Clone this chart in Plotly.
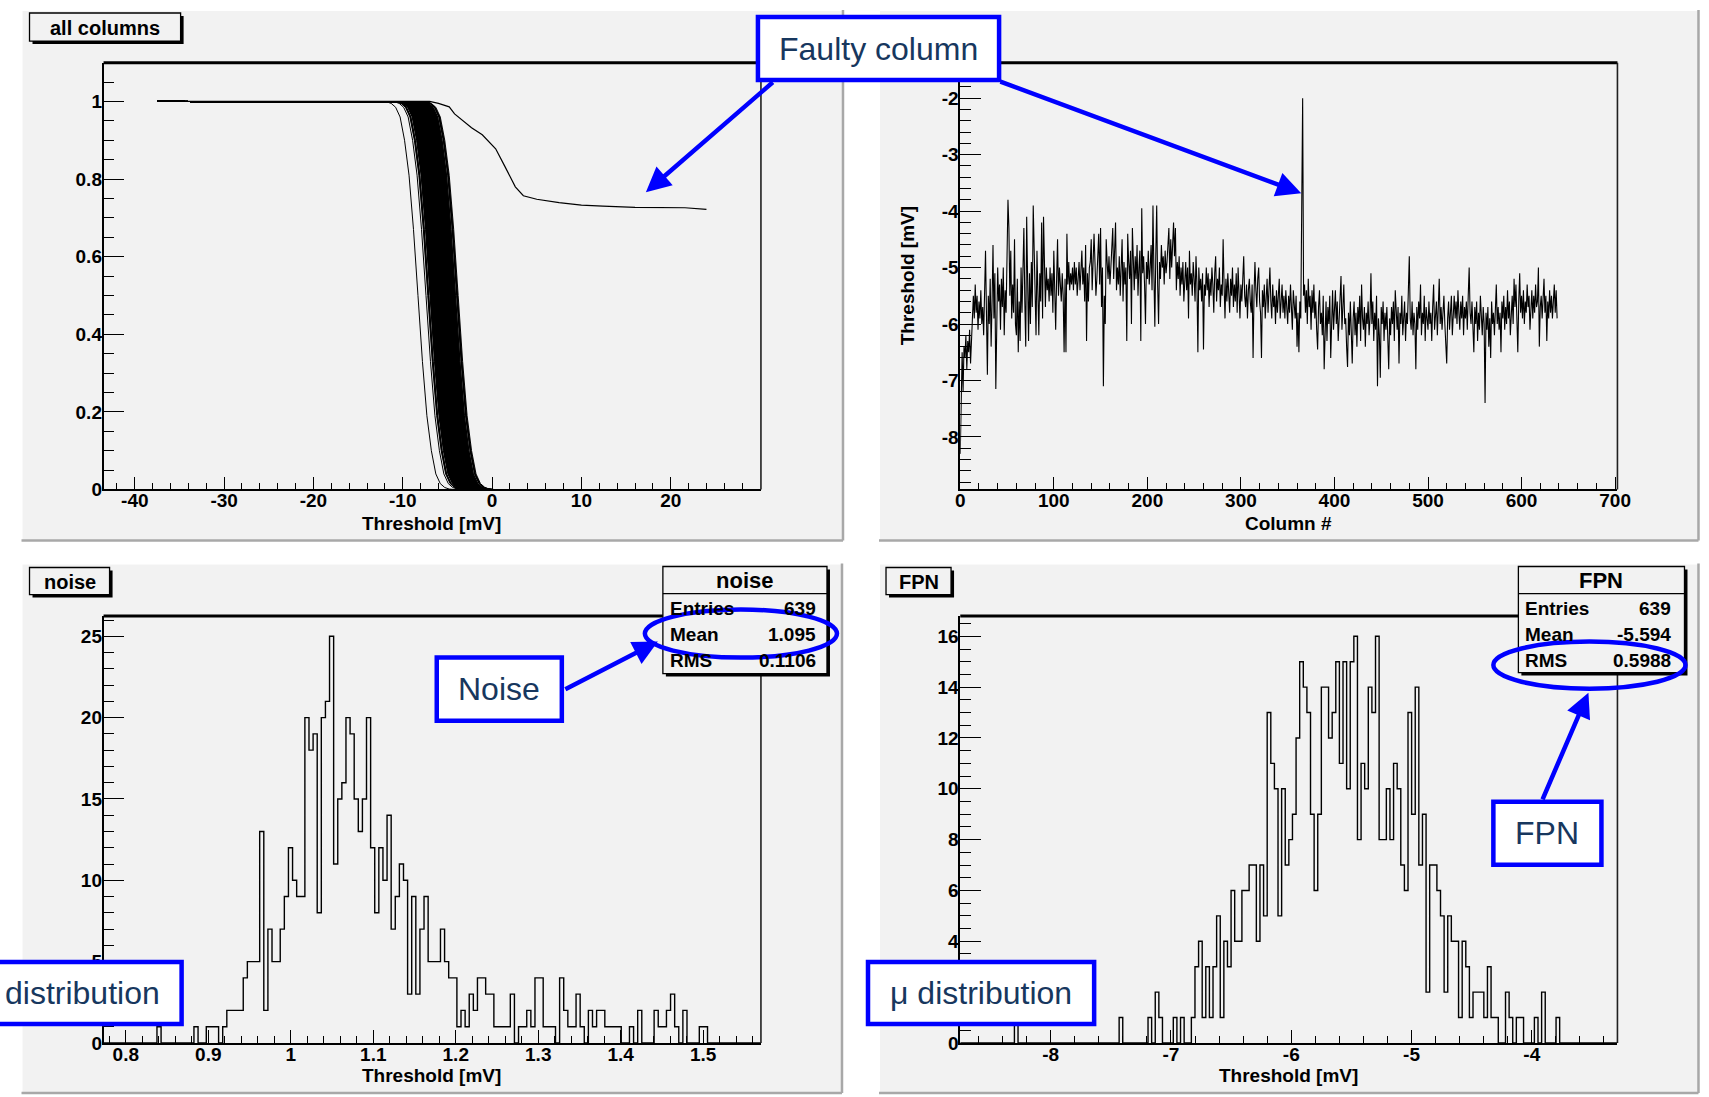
import plotly.graph_objects as go

W, H = 1709, 1097          # design coordinates (reference pixels)
FIG_W, FIG_H = 1728, 1109  # rendered figure size
X_SHIFT = -5.5             # horizontal calibration of the design grid
ROOT_FONT = "Liberation Sans"
NOTE_FONT = "Liberation Sans"
PANEL_BG = "#F2F2F2"
NOTE_BLUE = "#0000FF"
NOTE_TEXT = "#17375E"

# ------------------------------------------------------------------ data
# threshold (mV) per column, read from the "Threshold vs Column #" graph
COLUMN_THRESHOLD_MV = [
    -8.3, -6.9, -6.5, -7.2, -6.4, -6.6, -6.2, -6.8, -6.3, -6.5, -6.1, -6.7, -6.2, -6.0, -5.5, -5.9, -5.3, -5.8, -5.5, -6.1,
    -5.6, -5.9, -5.4, -6.0, -5.7, -6.2, -5.4, -4.7, -5.8, -6.9, -5.5, -6.0, -5.2, -6.4, -5.6, -4.6, -5.9, -5.1, -7.15, -5.8,
    -5.0, -5.6, -5.3, -6.1, -5.2, -5.7, -5.0, -6.2, -5.4, -5.8, -4.9, -3.8, -4.3, -5.5, -4.7, -5.9, -5.3, -5.8, -4.5, -6.0,
    -6.2, -5.2, -6.5, -5.6, -6.3, -5.0, -5.8, -4.9, -4.3, -5.6, -6.4, -4.1, -5.5, -6.3, -5.1, -6.0, -4.9, -5.7, -3.9, -4.6,
    -5.4, -6.2, -4.7, -5.5, -6.2, -5.1, -5.6, -4.2, -5.9, -4.1, -5.3, -5.7, -5.0, -5.4, -5.2, -5.6, -5.0, -5.5, -5.1, -5.8,
    -4.7, -5.4, -6.1, -5.2, -4.5, -5.5, -5.0, -5.3, -5.6, -5.1, -5.5, -6.5, -5.2, -6.5, -4.4, -5.3, -4.9, -5.4, -5.1, -5.3,
    -5.0, -5.4, -4.9, -5.3, -5.0, -5.5, -5.2, -4.9, -5.4, -5.1, -4.7, -5.3, -5.0, -5.6, -4.6, -6.3, -5.1, -5.6, -5.0, -4.9,
    -4.5, -5.4, -5.0, -4.4, -4.9, -5.5, -5.2, -4.8, -4.4, -5.3, -4.3, -5.7, -5.0, -7.1, -5.5, -6.0, -4.5, -4.9, -5.2, -4.8,
    -5.3, -5.0, -4.7, -4.3, -5.2, -4.8, -4.2, -5.4, -5.0, -5.3, -4.8, -5.5, -4.7, -4.5, -5.6, -4.9, -5.3, -5.0, -6.3, -4.4,
    -4.9, -5.2, -4.7, -6.0, -4.3, -5.0, -5.4, -4.8, -5.2, -4.6, -5.5, -5.0, -4.7, -6.3, -3.95, -5.1, -4.8, -5.3, -6.0, -4.9,
    -5.2, -4.7, -5.3, -5.0, -4.6, -5.4, -3.9, -5.1, -6.05, -4.8, -3.9, -5.3, -6.0, -4.9, -5.2, -4.6, -5.0, -4.8, -5.3, -4.7,
    -5.1, -4.9, -4.6, -4.3, -5.2, -4.5, -5.0, -4.7, -4.2, -4.8, -4.3, -5.4, -4.9, -5.2, -4.8, -5.5, -5.0, -5.3, -4.9, -5.6,
    -5.1, -4.9, -5.4, -5.0, -5.9, -4.7, -5.3, -5.1, -5.5, -4.9, -5.2, -5.6, -4.8, -5.3, -6.5, -5.0, -5.4, -5.2, -5.6, -5.1,
    -6.45, -5.3, -5.5, -5.0, -5.4, -5.1, -5.7, -5.2, -5.5, -5.0, -5.3, -5.8, -5.1, -4.8, -5.6, -5.2, -5.4, -5.0, -5.7, -5.3,
    -5.5, -4.5, -5.3, -5.9, -5.2, -5.6, -5.1, -5.4, -5.8, -5.2, -5.5, -5.0, -5.7, -5.3, -5.6, -5.1, -5.8, -5.0, -5.4, -5.9,
    -5.3, -5.6, -5.2, -4.8, -5.5, -5.7, -5.3, -5.9, -5.4, -5.2, -5.6, -5.8, -5.3, -6.6, -5.5, -4.9, -5.4, -5.7, -5.2, -5.0,
    -5.6, -5.8, -6.6, -5.4, -5.7, -5.3, -5.9, -5.5, -5.2, -5.8, -5.4, -5.0, -5.6, -5.9, -5.3, -5.7, -5.5, -6.0, -5.4, -5.8,
    -5.5, -5.2, -5.9, -5.6, -5.3, -5.8, -5.5, -5.9, -5.4, -5.7, -6.0, -5.5, -5.8, -5.3, -5.6, -6.1, -5.4, -5.7, -5.9, -5.5,
    -6.4, -5.8, -6.5, -5.6, -5.9, -3.95, -2.0, -5.5, -5.3, -5.8, -5.4, -6.0, -5.2, -5.7, -5.5, -6.1, -5.4, -5.8, -5.3, -5.9,
    -5.6, -6.1, -6.45, -5.7, -5.4, -6.0, -5.8, -6.2, -5.5, -6.8, -5.9, -5.6, -6.3, -5.7, -6.0, -5.5, -6.6, -5.8, -5.4, -6.1,
    -5.7, -5.4, -6.0, -5.6, -6.3, -5.8, -5.5, -5.15, -6.1, -5.7, -5.3, -6.0, -5.9, -6.4, -6.76, -5.8, -6.2, -5.6, -6.0, -6.7,
    -5.9, -5.6, -6.2, -5.8, -6.4, -5.7, -6.0, -5.5, -6.3, -5.3, -5.9, -6.1, -5.7, -6.4, -5.8, -6.0, -5.6, -6.2, -5.9, -5.1,
    -6.0, -5.6, -6.3, -5.8, -6.1, -5.5, -7.1, -5.9, -6.2, -6.95, -5.7, -6.0, -5.6, -6.3, -5.8, -6.1, -5.7, -6.4, -6.8, -5.9,
    -6.2, -5.7, -6.0, -5.6, -6.3, -5.4, -5.9, -6.1, -5.7, -6.7, -5.8, -6.0, -5.5, -6.2, -5.9, -5.6, -6.3, -5.8, -6.0, -5.5,
    -4.8, -5.9, -6.1, -5.6, -6.2, -5.8, -6.0, -6.8, -5.7, -6.1, -5.6, -5.9, -5.3, -6.2, -5.8, -6.0, -5.5, -6.3, -5.7, -5.9,
    -6.1, -5.6, -6.0, -5.8, -6.3, -5.7, -5.3, -6.1, -5.9, -5.6, -6.2, -5.8, -5.2, -6.0, -5.7, -6.1, -5.8, -5.5, -6.0, -6.3,
    -6.7, -5.9, -5.6, -6.1, -5.8, -5.5, -6.2, -5.7, -5.5, -5.9, -5.6, -6.0, -5.4, -5.8, -6.1, -5.6, -5.9, -5.5, -6.2, -5.7,
    -5.9, -5.6, -6.1, -5.5, -5.0, -5.8, -6.0, -5.6, -6.2, -6.5, -5.7, -6.0, -5.6, -6.3, -5.8, -6.1, -5.5, -5.9, -6.2, -5.7,
    -6.0, -7.4, -5.8, -6.1, -5.7, -6.4, -5.9, -6.6, -5.6, -6.0, -5.8, -6.2, -5.5, -5.3, -6.0, -5.7, -6.1, -5.8, -6.5, -5.6,
    -5.9, -5.5, -6.1, -5.7, -6.0, -5.4, -5.9, -5.6, -6.2, -5.8, -5.5, -6.0, -5.2, -5.7, -5.3, -5.9, -6.5, -5.6, -5.1, -5.8,
    -5.5, -5.9, -5.4, -6.0, -5.6, -5.8, -5.3, -5.7, -5.5, -6.1, -5.6, -5.4, -5.9, -5.5, -5.8, -5.3, -5.7, -5.6, -5.0, -6.4,
    -5.7, -5.5, -5.9, -5.4, -5.2, -5.8, -5.5, -6.3, -5.6, -5.9, -5.4, -5.8, -5.5, -5.9, -5.6, -5.3, -5.8, -5.4, -5.9,
]
FAULTY_COLUMN = 366

# S-curve: occupancy vs. offset from the column threshold
SCURVE_START_MV = -37.5
SCURVE_OFFSET_MV = [-4.0, -3.5, -3.0, -2.5, -2.0, -1.5, -1.0, -0.5, 0.0, 0.5, 1.0, 1.5, 2.0, 2.5, 3.0, 3.5, 4.0]
SCURVE_OCCUPANCY = [1.0, 0.999, 0.995, 0.985, 0.96, 0.90, 0.81, 0.67, 0.50, 0.33, 0.19, 0.10, 0.04, 0.015, 0.005, 0.001, 0.0]

# the faulty column's S-curve
FAULTY_SCURVE_X = [-37.5, -7.0, -6.0, -4.8, -4.2, -3.2, -2.3, -1.1, 0.4, 1.4, 2.6, 3.5, 5.0, 7.5, 10.0, 12.4, 16.0, 21.6, 24.0]
FAULTY_SCURVE_Y = [1.0, 1.0, 0.995, 0.986, 0.968, 0.95, 0.932, 0.914, 0.878, 0.834, 0.78, 0.757, 0.748, 0.739, 0.733, 0.730, 0.727, 0.726, 0.722]

# noise histogram (160 bins)
NOISE_HIST_MIN, NOISE_HIST_MAX = 0.773, 1.570
NOISE_COUNTS = [
    0, 0, 0, 0, 0, 0, 0, 0, 0, 0, 0, 0, 0, 1, 0, 0, 0, 0, 0, 0,
    0, 0, 1, 0, 0, 1, 1, 1, 0, 1, 2, 2, 2, 2, 4, 5, 5, 5, 13, 2,
    7, 5, 5, 7, 9, 12, 10, 9, 9, 20, 18, 19, 8, 20, 21, 25, 11, 15, 16, 20,
    19, 15, 13, 15, 20, 12, 8, 12, 10, 14, 7, 9, 11, 10, 3, 9, 3, 7, 9, 5,
    5, 5, 7, 5, 4, 4, 1, 2, 1, 3, 2, 4, 4, 3, 3, 1, 1, 1, 1, 3,
    0, 1, 1, 2, 1, 4, 4, 1, 1, 1, 0, 4, 2, 1, 1, 3, 1, 0, 2, 1,
    2, 2, 1, 1, 1, 1, 0, 0, 1, 0, 2, 0, 0, 0, 2, 1, 1, 2, 3, 1,
    0, 2, 0, 0, 0, 1, 1, 0, 0, 0, 0, 0, 0, 0, 0, 0, 0, 0, 0, 0,
]

# FPN histogram (182 bins)
FPN_HIST_MIN, FPN_HIST_MAX = -8.752, -3.288
FPN_COUNTS = [
    0, 0, 0, 0, 0, 0, 0, 0, 0, 0, 0, 0, 0, 0, 0, 1, 0, 0, 0, 0,
    0, 0, 0, 0, 0, 0, 0, 0, 0, 0, 0, 0, 0, 0, 0, 0, 0, 0, 0, 0,
    0, 0, 0, 0, 1, 0, 0, 0, 0, 0, 0, 0, 1, 0, 2, 1, 0, 0, 0, 1,
    0, 1, 0, 0, 1, 3, 4, 1, 3, 1, 3, 5, 1, 4, 3, 6, 4, 4, 6, 6,
    7, 7, 4, 7, 5, 13, 11, 10, 5, 10, 7, 8, 9, 12, 15, 14, 13, 9, 6, 9,
    14, 14, 12, 13, 15, 11, 15, 10, 15, 16, 8, 11, 10, 14, 13, 16, 8, 8, 10, 8,
    11, 10, 7, 6, 13, 9, 14, 7, 9, 2, 7, 7, 6, 5, 2, 5, 4, 4, 1, 4,
    3, 1, 2, 2, 2, 1, 3, 1, 1, 0, 0, 2, 1, 0, 1, 1, 0, 0, 0, 1,
    0, 2, 0, 0, 0, 1, 0, 0, 0, 0, 0, 0, 0, 0, 0, 0, 0, 0, 0, 0,
    0, 0,
]

NOISE_STATS = [("Entries", "639"), ("Mean", "1.095"), ("RMS", "0.1106")]
FPN_STATS = [("Entries", "639"), ("Mean", "-5.594"), ("RMS", "0.5988")]

# tick labels
TL_XTICKS = [-40, -30, -20, -10, 0, 10, 20]
TL_XLABELS = ["-40", "-30", "-20", "-10", "0", "10", "20"]
TL_YTICKS = [0, 0.2, 0.4, 0.6, 0.8, 1.0]
TL_YLABELS = ["0", "0.2", "0.4", "0.6", "0.8", "1"]
TR_XTICKS = [0, 100, 200, 300, 400, 500, 600, 700]
TR_XLABELS = ["0", "100", "200", "300", "400", "500", "600", "700"]
TR_YTICKS = [-8, -7, -6, -5, -4, -3, -2]
TR_YLABELS = ["-8", "-7", "-6", "-5", "-4", "-3", "-2"]
BL_XTICKS = [0.8, 0.9, 1.0, 1.1, 1.2, 1.3, 1.4, 1.5]
BL_XLABELS = ["0.8", "0.9", "1", "1.1", "1.2", "1.3", "1.4", "1.5"]
BL_YTICKS = [0, 5, 10, 15, 20, 25]
BL_YLABELS = ["0", "5", "10", "15", "20", "25"]
BR_XTICKS = [-8, -7, -6, -5, -4]
BR_XLABELS = ["-8", "-7", "-6", "-5", "-4"]
BR_YTICKS = [0, 2, 4, 6, 8, 10, 12, 14, 16]
BR_YLABELS = ["0", "2", "4", "6", "8", "10", "12", "14", "16"]

# ------------------------------------------------------------------ helpers
def fx(x):
    return (x + X_SHIFT) / W


def fy(y):
    return 1.0 - y / H


shapes = []
annotations = []


def add_rect(x0, y0, x1, y1, fill=None, line_color=None, line_width=0, layer="above"):
    shapes.append(dict(type="rect", xref="paper", yref="paper",
                       x0=fx(x0), x1=fx(x1), y0=fy(y1), y1=fy(y0),
                       fillcolor=fill if fill else "rgba(0,0,0,0)",
                       line=dict(color=line_color if line_color else "rgba(0,0,0,0)", width=line_width),
                       layer=layer))


def add_line(x0, y0, x1, y1, color, width, layer="above"):
    shapes.append(dict(type="line", xref="paper", yref="paper",
                       x0=fx(x0), y0=fy(y0), x1=fx(x1), y1=fy(y1),
                       line=dict(color=color, width=width), layer=layer))


def add_text(x, y, text, size, color="black", bold=True, xanchor="center", family=ROOT_FONT, angle=0):
    annotations.append(dict(xref="paper", yref="paper", x=fx(x), y=fy(y), text=text,
                            showarrow=False, xanchor=xanchor, yanchor="middle", textangle=angle,
                            font=dict(family=family, size=size, color=color,
                                      weight="bold" if bold else "normal")))


# ------------------------------------------------------------------ panels
PANELS = [(22, 10, 843, 540), (879, 10, 1698, 540), (22, 563, 842, 1092), (879, 563, 1698, 1092)]
for (x0, y0, x1, y1) in PANELS:
    add_rect(x0, y0, x1, y1, fill=PANEL_BG, layer="below")
    add_line(x0, y0, x1, y0, "#FFFFFF", 2, layer="below")
    add_line(x0, y0, x0, y1, "#FFFFFF", 2, layer="below")
    add_line(x0, y1, x1, y1, "#A8A8A8", 2.5, layer="below")
    add_line(x1, y0, x1, y1, "#A8A8A8", 2.5, layer="below")

# frame (top thick, right thin)
FRAMES = [(104, 62.6, 761, 489), (960.2, 62.6, 1617, 489), (104, 615.4, 761, 1042), (960.2, 615.4, 1617, 1042)]
for (x0, y0, x1, y1) in FRAMES:
    add_line(x0, y0, x1, y0, "black", 3)
    add_line(x1, y0, x1, y1, "#202020", 1.6)

# ------------------------------------------------------------------ traces
fig = go.Figure()

# S-curve band
band_x, band_y = [], []
for i, mu in enumerate(COLUMN_THRESHOLD_MV):
    if i == FAULTY_COLUMN:
        continue
    band_x.append(SCURVE_START_MV)
    band_y.append(1.0)
    for d, occ in zip(SCURVE_OFFSET_MV, SCURVE_OCCUPANCY):
        band_x.append(mu + d)
        band_y.append(occ)
    band_x.append(None)
    band_y.append(None)
fig.add_trace(go.Scatter(x=band_x, y=band_y, mode="lines", line=dict(color="black", width=1),
                         xaxis="x", yaxis="y", hoverinfo="skip", showlegend=False))
fig.add_trace(go.Scatter(x=FAULTY_SCURVE_X, y=FAULTY_SCURVE_Y, mode="lines",
                         line=dict(color="black", width=1.2), xaxis="x", yaxis="y",
                         hoverinfo="skip", showlegend=False))

# threshold vs column
fig.add_trace(go.Scatter(x=list(range(len(COLUMN_THRESHOLD_MV))), y=COLUMN_THRESHOLD_MV, mode="lines",
                         line=dict(color="black", width=1.1), xaxis="x2", yaxis="y2",
                         hoverinfo="skip", showlegend=False))


def hist_steps(xmin, xmax, counts):
    n = len(counts)
    w = (xmax - xmin) / n
    xs = [xmin + i * w for i in range(n)] + [xmax, xmax]
    ys = list(counts) + [counts[-1], 0]
    return xs, ys


nx, ny = hist_steps(NOISE_HIST_MIN, NOISE_HIST_MAX, NOISE_COUNTS)
fig.add_trace(go.Scatter(x=nx, y=ny, mode="lines", line=dict(color="black", width=1.4, shape="hv"),
                         xaxis="x3", yaxis="y3", hoverinfo="skip", showlegend=False))
px_, py_ = hist_steps(FPN_HIST_MIN, FPN_HIST_MAX, FPN_COUNTS)
fig.add_trace(go.Scatter(x=px_, y=py_, mode="lines", line=dict(color="black", width=1.4, shape="hv"),
                         xaxis="x4", yaxis="y4", hoverinfo="skip", showlegend=False))


# ------------------------------------------------------------------ axes
def axis(domain, rng, tickvals, ticktext, ticklen, minor_dtick, minor_len, anchor, standoff):
    return dict(domain=domain, range=rng, anchor=anchor, tickmode="array", tickvals=tickvals,
                ticktext=ticktext, ticks="inside", ticklen=ticklen, tickwidth=1.3, tickcolor="black",
                showline=True, linecolor="black", linewidth=1.6, showgrid=False, zeroline=False,
                fixedrange=True, ticklabelstandoff=standoff,
                tickfont=dict(family=ROOT_FONT, size=19, color="black", weight="bold"),
                minor=dict(tickmode="linear", tick0=0, dtick=minor_dtick, ticks="inside",
                           ticklen=minor_len, tickwidth=1.1, tickcolor="black", showgrid=False))


xd_left = [fx(104), fx(761)]
xd_right = [fx(960.2), fx(1617)]
yd_top = [fy(489), fy(62.6)]
yd_bot = [fy(1042), fy(615.4)]

XS, YS = -7, -4
layout = dict(
    width=FIG_W, height=FIG_H, autosize=False,
    margin=dict(l=0, r=0, t=0, b=0, pad=0),
    paper_bgcolor="#FFFFFF", plot_bgcolor="rgba(0,0,0,0)",
    showlegend=False,
    xaxis=axis(xd_left, [-43.5, 30.1], TL_XTICKS, TL_XLABELS, 13, 2, 7, "y", XS),
    yaxis=axis(yd_top, [0, 1.1], TL_YTICKS, TL_YLABELS, 21, 0.05, 11, "x", YS),
    xaxis2=axis(xd_right, [0, 702.5], TR_XTICKS, TR_XLABELS, 13, 20, 7, "y2", XS),
    yaxis2=axis(yd_top, [-8.93, -1.37], TR_YTICKS, TR_YLABELS, 21, 0.2, 11, "x2", YS),
    xaxis3=axis(xd_left, [NOISE_HIST_MIN, NOISE_HIST_MAX], BL_XTICKS, BL_XLABELS, 13, 0.02, 7, "y3", XS),
    yaxis3=axis(yd_bot, [0, 26.25], BL_YTICKS, BL_YLABELS, 21, 1, 11, "x3", YS),
    xaxis4=axis(xd_right, [FPN_HIST_MIN, FPN_HIST_MAX], BR_XTICKS, BR_XLABELS, 13, 0.2, 7, "y4", XS),
    yaxis4=axis(yd_bot, [0, 16.8], BR_YTICKS, BR_YLABELS, 21, 0.5, 11, "x4", YS),
)

# axis titles
add_text(432, 523, "Threshold [mV]", 19)
add_text(1288, 523, "Column #", 19)
add_text(907, 276, "Threshold [mV]", 19, angle=-90)
add_text(432, 1075, "Threshold [mV]", 19)
add_text(1288, 1075, "Threshold [mV]", 19)


# pad titles with shadow
def title_box(x0, y0, x1, y1, text):
    add_rect(x0 + 3, y0 + 3, x1 + 3, y1 + 3, fill="black")
    add_rect(x0, y0, x1, y1, fill=PANEL_BG, line_color="black", line_width=1.3)
    add_text((x0 + x1) / 2, (y0 + y1) / 2 + 1, text, 20)


title_box(30, 13, 181, 41, "all columns")
title_box(30, 567, 110, 594, "noise")
title_box(886, 567, 951, 594, "FPN")


# stats boxes
def stats_box(x0, y0, x1, y1, title, rows, label_x, value_x):
    add_rect(x0 + 3, y0 + 3, x1 + 3, y1 + 3, fill="black")
    add_rect(x0, y0, x1, y1, fill=PANEL_BG, line_color="black", line_width=1.3)
    add_line(x0, 593, x1, 593, "black", 1.3)
    add_text((x0 + x1) / 2, 580, title, 22)
    for (label, value), yy in zip(rows, [607.5, 633.5, 660]):
        add_text(label_x, yy, label, 19, xanchor="left")
        add_text(value_x, yy, value, 19, xanchor="right")


stats_box(663, 566, 827, 673, "noise", NOISE_STATS, 668, 818)
stats_box(1518, 566, 1684, 672, "FPN", FPN_STATS, 1523, 1673)


# blue callouts
def callout(x0, y0, x1, y1, text, tx=None, anchor="center"):
    add_rect(x0, y0, x1, y1, fill="#FFFFFF", line_color=NOTE_BLUE, line_width=4.5)
    add_text(tx if tx is not None else (x0 + x1) / 2, (y0 + y1) / 2, text, 32,
             color=NOTE_TEXT, bold=False, xanchor=anchor, family=NOTE_FONT)


callout(758, 17, 999, 80, "Faulty column")
callout(437, 657, 562, 720, "Noise")
callout(-10, 961, 182, 1023, "distribution", tx=4, anchor="left")
callout(868, 961, 1094, 1023, "\u03bc distribution")
callout(1493, 801, 1601, 864, "FPN")

# ellipses
shapes.append(dict(type="circle", xref="paper", yref="paper", x0=fx(645), x1=fx(837),
                   y0=fy(657), y1=fy(609), line=dict(color=NOTE_BLUE, width=4.5), layer="above"))
shapes.append(dict(type="circle", xref="paper", yref="paper", x0=fx(1493), x1=fx(1685),
                   y0=fy(688), y1=fy(641), line=dict(color=NOTE_BLUE, width=4.5), layer="above"))

# arrows (tip, tail) in design pixels; pixel offsets scaled to the figure size
SX, SY = FIG_W / W, FIG_H / H
ARROWS = [((646, 192), (773, 82)), ((1301, 193), (1002, 82)), ((658, 641), (565, 689)), ((1588, 692), (1542, 799))]
for (tx_, ty_), (sx, sy) in ARROWS:
    annotations.append(dict(xref="paper", yref="paper", x=fx(tx_), y=fy(ty_), text="",
                            showarrow=True, axref="pixel", ayref="pixel",
                            ax=(sx - tx_) * SX, ay=(sy - ty_) * SY,
                            arrowhead=2, arrowsize=1.1, arrowwidth=4.5, arrowcolor=NOTE_BLUE, standoff=0))

layout["shapes"] = shapes
layout["annotations"] = annotations
fig.update_layout(**layout)

fig.write_html("out.html", config={"responsive": False},
               post_script="document.body.style.margin='0px';document.body.style.padding='0px';")
